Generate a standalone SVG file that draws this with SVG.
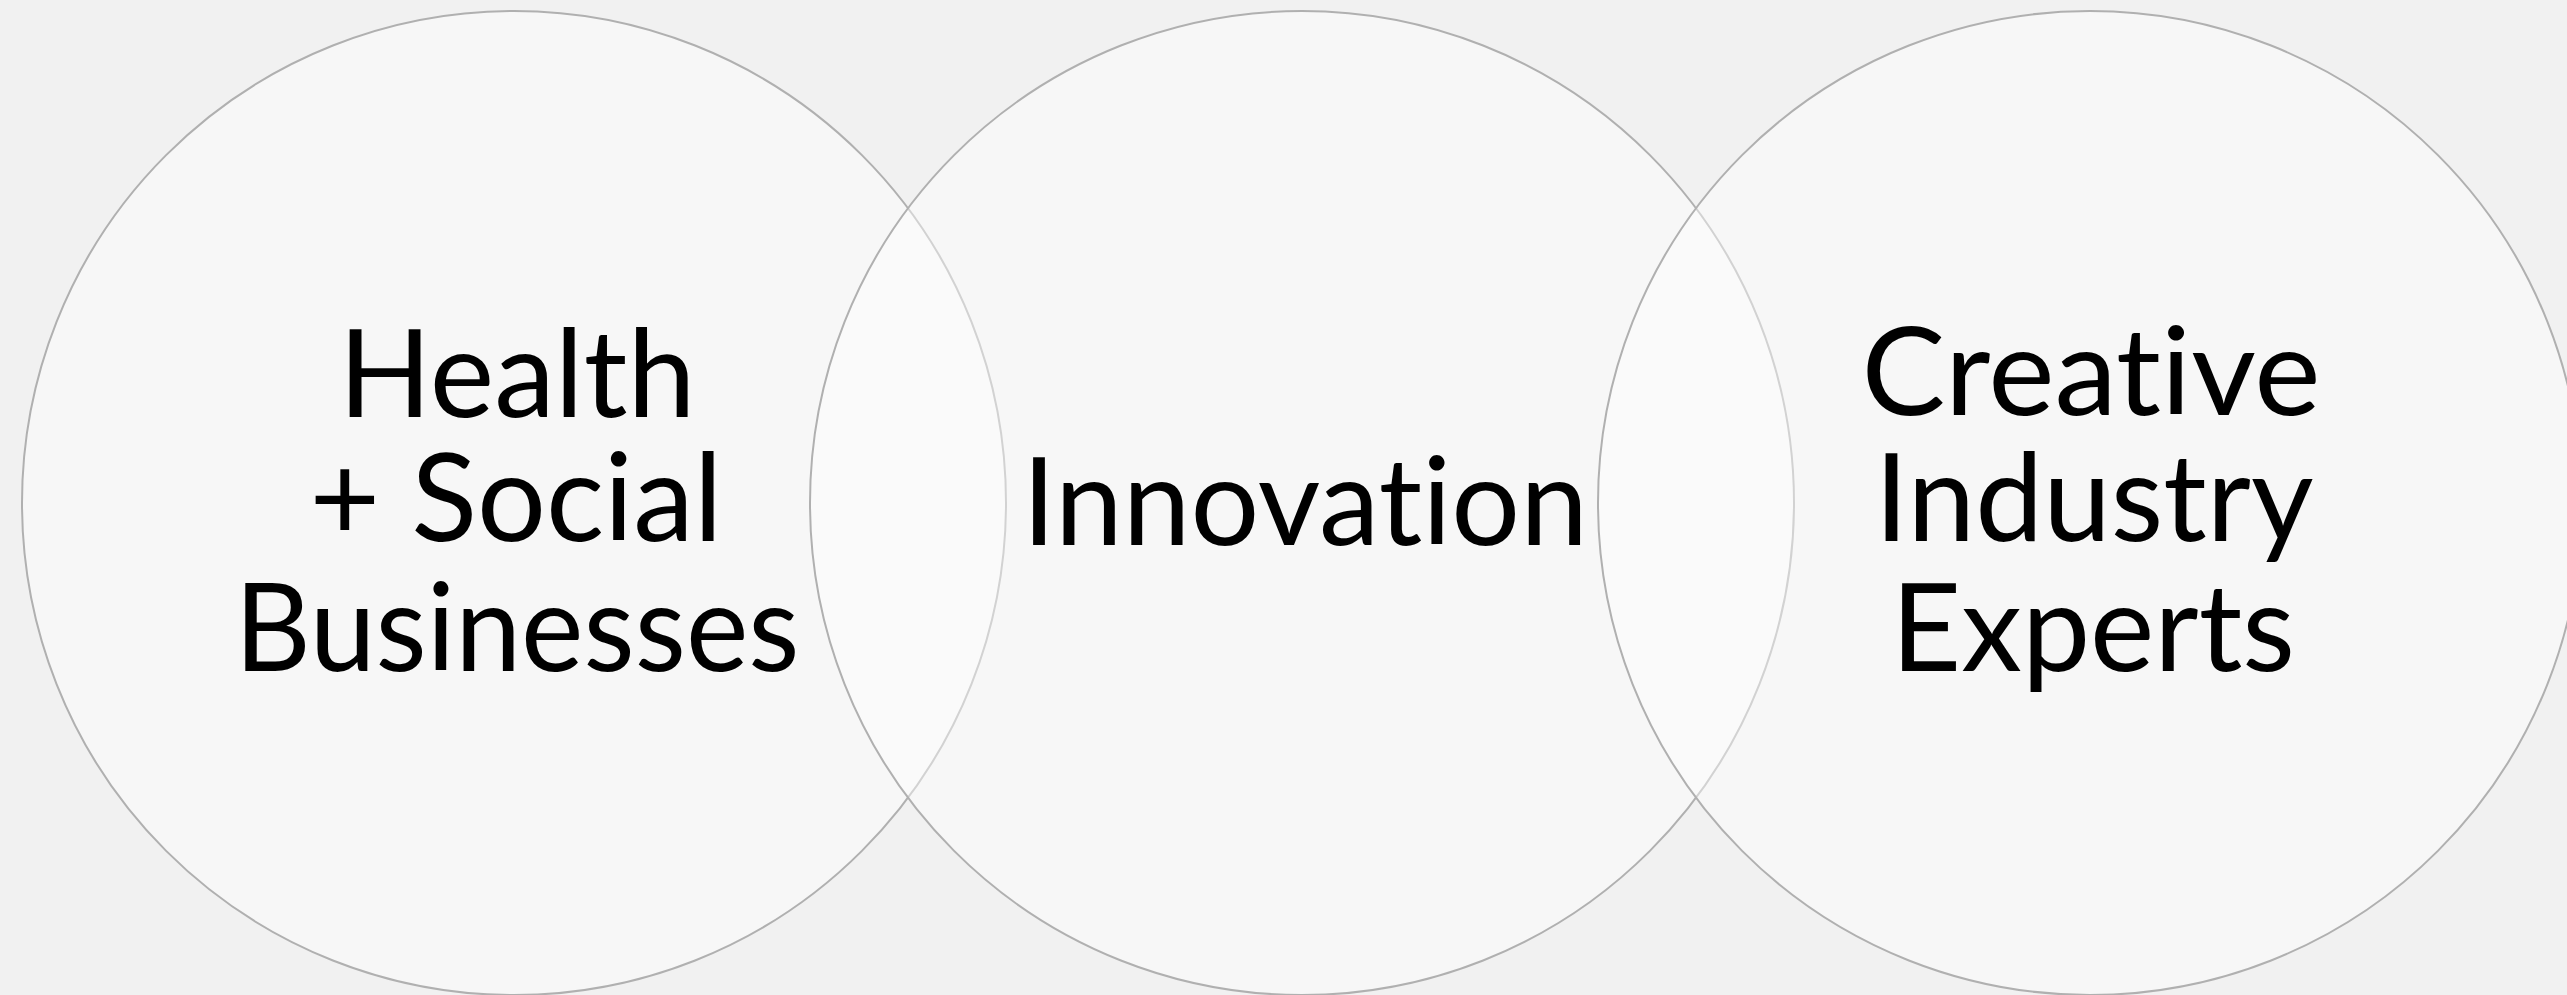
<svg xmlns="http://www.w3.org/2000/svg" width="2567" height="995" viewBox="0 0 2567 995">
<style>
.c{fill:#ffffff;fill-opacity:0.43;stroke:#b0b0b0;stroke-width:2}
.t{font-family:Lato,"Open Sans","Liberation Sans",sans-serif;font-size:122px;fill:#000;text-anchor:middle;font-variant-ligatures:none;font-feature-settings:"liga" 0,"clig" 0}
</style>
<rect width="2567" height="995" fill="#f1f1f1"/>
<g id="connectors"></g>
<g id="node-health">
<circle class="c" cx="514" cy="503" r="492"/>
<text class="t" x="517" y="417" textLength="357" lengthAdjust="spacingAndGlyphs">Health</text>
<text class="t" x="516" y="541" textLength="413" lengthAdjust="spacingAndGlyphs">+ Social</text>
<text class="t" x="517" y="671" textLength="565" lengthAdjust="spacingAndGlyphs">Businesses</text>
</g>
<g id="node-innovation">
<circle class="c" cx="1302" cy="503" r="492"/>
<text class="t" x="1305" y="545" textLength="566" lengthAdjust="spacingAndGlyphs">Innovation</text>
</g>
<g id="node-creative">
<circle class="c" cx="2090" cy="503" r="492"/>
<text class="t" x="2091" y="415" textLength="459" lengthAdjust="spacingAndGlyphs">Creative</text>
<text class="t" x="2094" y="541" textLength="439" lengthAdjust="spacingAndGlyphs">Industry</text>
<text class="t" x="2093" y="671" textLength="404" lengthAdjust="spacingAndGlyphs">Experts</text>
</g>
</svg>
